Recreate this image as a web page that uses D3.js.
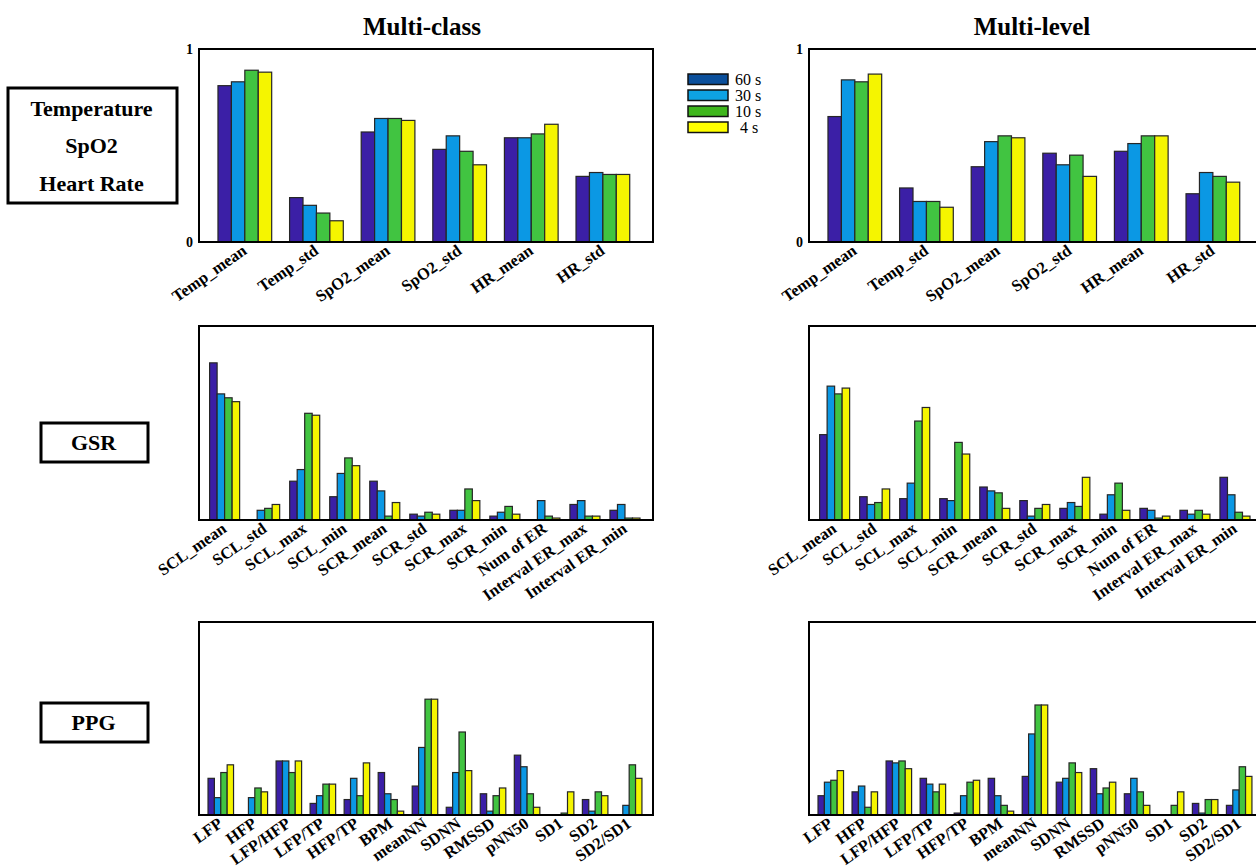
<!DOCTYPE html>
<html>
<head>
<meta charset="utf-8">
<script src="https://cdn.jsdelivr.net/npm/d3@7"></script>
<style>
  html, body { margin: 0; padding: 0; background: #fff; }
  svg { display: block; }
  svg text { font-family: "Liberation Serif", "Times New Roman", serif; }
</style>
</head>
<body>
<svg id="fig" width="1256" height="868"></svg>
<script>
// Window lengths (series) and their colours
const windows = ["60 s", "30 s", "10 s", "4 s"];
const barColors = ["#3b1fa6", "#0b98e4", "#41c441", "#f5f500"];
const legendColors = ["#0b4f9b", "#0ea2e3", "#3eb61c", "#ffff00"];

// Feature names per sensor group
const vitalFeatures = ["Temp_mean", "Temp_std", "SpO2_mean", "SpO2_std", "HR_mean", "HR_std"];
const gsrFeatures = ["SCL_mean", "SCL_std", "SCL_max", "SCL_min", "SCR_mean", "SCR_std",
  "SCR_max", "SCR_min", "Num of ER", "Interval ER_max", "Interval ER_min"];
const ppgFeatures = ["LFP", "HFP", "LFP/HFP", "LFP/TP", "HFP/TP", "BPM", "meanNN",
  "SDNN", "RMSSD", "pNN50", "SD1", "SD2", "SD2/SD1"];

// Feature importance, one row per window (60 s, 30 s, 10 s, 4 s)
const vitalClass = [
  [0.81, 0.23, 0.57, 0.48, 0.54, 0.34],
  [0.83, 0.19, 0.64, 0.55, 0.54, 0.36],
  [0.89, 0.15, 0.64, 0.47, 0.56, 0.35],
  [0.88, 0.11, 0.63, 0.40, 0.61, 0.35]
];
const vitalLevel = [
  [0.65, 0.28, 0.39, 0.46, 0.47, 0.25],
  [0.84, 0.21, 0.52, 0.40, 0.51, 0.36],
  [0.83, 0.21, 0.55, 0.45, 0.55, 0.34],
  [0.87, 0.18, 0.54, 0.34, 0.55, 0.31]
];
const gsrClass = [
  [0.81, 0.00, 0.20, 0.12, 0.20, 0.03, 0.05, 0.02, 0.00, 0.08, 0.05],
  [0.65, 0.05, 0.26, 0.24, 0.15, 0.02, 0.05, 0.04, 0.10, 0.10, 0.08],
  [0.63, 0.06, 0.55, 0.32, 0.02, 0.04, 0.16, 0.07, 0.02, 0.02, 0.01],
  [0.61, 0.08, 0.54, 0.28, 0.09, 0.03, 0.10, 0.03, 0.01, 0.02, 0.01]
];
const gsrLevel = [
  [0.44, 0.12, 0.11, 0.11, 0.17, 0.10, 0.06, 0.03, 0.06, 0.05, 0.22],
  [0.69, 0.08, 0.19, 0.10, 0.15, 0.02, 0.09, 0.13, 0.05, 0.03, 0.13],
  [0.65, 0.09, 0.51, 0.40, 0.14, 0.06, 0.07, 0.19, 0.01, 0.05, 0.04],
  [0.68, 0.16, 0.58, 0.34, 0.06, 0.08, 0.22, 0.05, 0.02, 0.03, 0.02]
];
const ppgClass = [
  [0.19, 0.00, 0.28, 0.06, 0.08, 0.22, 0.15, 0.04, 0.11, 0.31, 0.00, 0.08, 0.00],
  [0.09, 0.09, 0.28, 0.10, 0.19, 0.11, 0.35, 0.22, 0.02, 0.25, 0.00, 0.02, 0.05],
  [0.22, 0.14, 0.22, 0.16, 0.10, 0.08, 0.60, 0.43, 0.10, 0.11, 0.01, 0.12, 0.26],
  [0.26, 0.12, 0.28, 0.16, 0.27, 0.02, 0.60, 0.23, 0.14, 0.04, 0.12, 0.10, 0.19]
];
const ppgLevel = [
  [0.10, 0.12, 0.28, 0.19, 0.01, 0.19, 0.20, 0.17, 0.24, 0.11, 0.00, 0.06, 0.05],
  [0.17, 0.15, 0.27, 0.16, 0.10, 0.10, 0.42, 0.19, 0.11, 0.19, 0.00, 0.01, 0.13],
  [0.18, 0.04, 0.28, 0.12, 0.17, 0.05, 0.57, 0.27, 0.14, 0.12, 0.05, 0.08, 0.25],
  [0.23, 0.12, 0.24, 0.16, 0.18, 0.02, 0.57, 0.22, 0.17, 0.05, 0.12, 0.08, 0.20]
];

const columnTitles = ["Multi-class", "Multi-level"];
const rowLabels = [["Temperature", "SpO2", "Heart Rate"], ["GSR"], ["PPG"]];
const yTickLabels = ["0", "1"];

const svg = d3.select("#fig");

// Layout of the 3 x 2 grid of axes
const colX = [[199, 653], [809, 1263]];
const rowY = [[49, 242], [326, 520], [622, 815]];

const panels = [
  { row: 0, col: 0, features: vitalFeatures, values: vitalClass, ticks: true },
  { row: 0, col: 1, features: vitalFeatures, values: vitalLevel, ticks: true },
  { row: 1, col: 0, features: gsrFeatures, values: gsrClass, ticks: false },
  { row: 1, col: 1, features: gsrFeatures, values: gsrLevel, ticks: false },
  { row: 2, col: 0, features: ppgFeatures, values: ppgClass, ticks: false },
  { row: 2, col: 1, features: ppgFeatures, values: ppgLevel, ticks: false }
];

panels.forEach(p => {
  const [x0, x1] = colX[p.col];
  const [y0, y1] = rowY[p.row];
  const n = p.features.length;
  const x = d3.scaleLinear().domain([0.36, n + 0.7]).range([x0, x1]);
  const y = d3.scaleLinear().domain([0, 1]).range([y1, y0]);
  const groupW = 0.75;
  const barW = groupW / windows.length;
  const g = svg.append("g");

  // bars
  windows.forEach((w, si) => {
    g.append("g").selectAll("rect")
      .data(p.values[si])
      .join("rect")
      .attr("x", (d, i) => x(i + 1 - groupW / 2 + si * barW))
      .attr("width", x(barW) - x(0))
      .attr("y", d => y(d))
      .attr("height", d => y(0) - y(d))
      .attr("fill", barColors[si])
      .attr("stroke", "#262626")
      .attr("stroke-width", 1.2);
  });

  // box
  g.append("rect")
    .attr("x", x0).attr("y", y0)
    .attr("width", x1 - x0).attr("height", y1 - y0)
    .attr("fill", "none").attr("stroke", "#000").attr("stroke-width", 2);

  // y tick labels
  if (p.ticks) {
    g.selectAll("text.yt")
      .data([0, 1])
      .join("text")
      .attr("class", "yt")
      .attr("x", x0 - 6)
      .attr("y", d => y(d))
      .attr("dy", "0.35em")
      .attr("text-anchor", "end")
      .attr("font-weight", "bold")
      .attr("font-size", 14)
      .text((d, i) => yTickLabels[i]);
  }

  // rotated category labels
  g.selectAll("text.xt")
    .data(p.features)
    .join("text")
    .attr("class", "xt")
    .attr("transform", (d, i) => `translate(${x(i + 1) + 3},${y1 + 11}) rotate(-35)`)
    .attr("text-anchor", "end")
    .attr("font-weight", "bold")
    .attr("font-size", 16.5)
    .text(d => d);
});

// column titles
columnTitles.forEach((t, c) => {
  svg.append("text")
    .attr("x", (colX[c][0] + colX[c][1]) / 2 - 4)
    .attr("y", 35)
    .attr("text-anchor", "middle")
    .attr("font-weight", "bold")
    .attr("font-size", 25)
    .text(t);
});

// row labels in boxes
const rowBoxes = [[8, 88, 169, 115], [41, 423, 107, 39], [41, 703, 107, 39]];
rowLabels.forEach((lines, r) => {
  const [bx, by, bw, bh] = rowBoxes[r];
  svg.append("rect")
    .attr("x", bx).attr("y", by).attr("width", bw).attr("height", bh)
    .attr("fill", "none").attr("stroke", "#000").attr("stroke-width", 3);
  const gap = 37.5;
  const startY = by + bh / 2 - (lines.length - 1) * gap / 2;
  lines.forEach((line, k) => {
    svg.append("text")
      .attr("x", bx + bw / 2 - 1)
      .attr("y", startY + k * gap)
      .attr("dy", "0.35em")
      .attr("text-anchor", "middle")
      .attr("font-weight", "bold")
      .attr("font-size", 22)
      .text(line);
  });
});

// legend
const legend = svg.append("g");
windows.forEach((w, i) => {
  legend.append("rect")
    .attr("x", 688).attr("y", 74 + i * 16)
    .attr("width", 40).attr("height", 10.5)
    .attr("fill", legendColors[i])
    .attr("stroke", "#111").attr("stroke-width", 1.5);
  legend.append("text")
    .attr("x", i === 3 ? 740 : 735).attr("y", 79.5 + i * 16)
    .attr("dy", "0.33em")
    .attr("font-size", 16)
    .text(w);
});
</script>
</body>
</html>
